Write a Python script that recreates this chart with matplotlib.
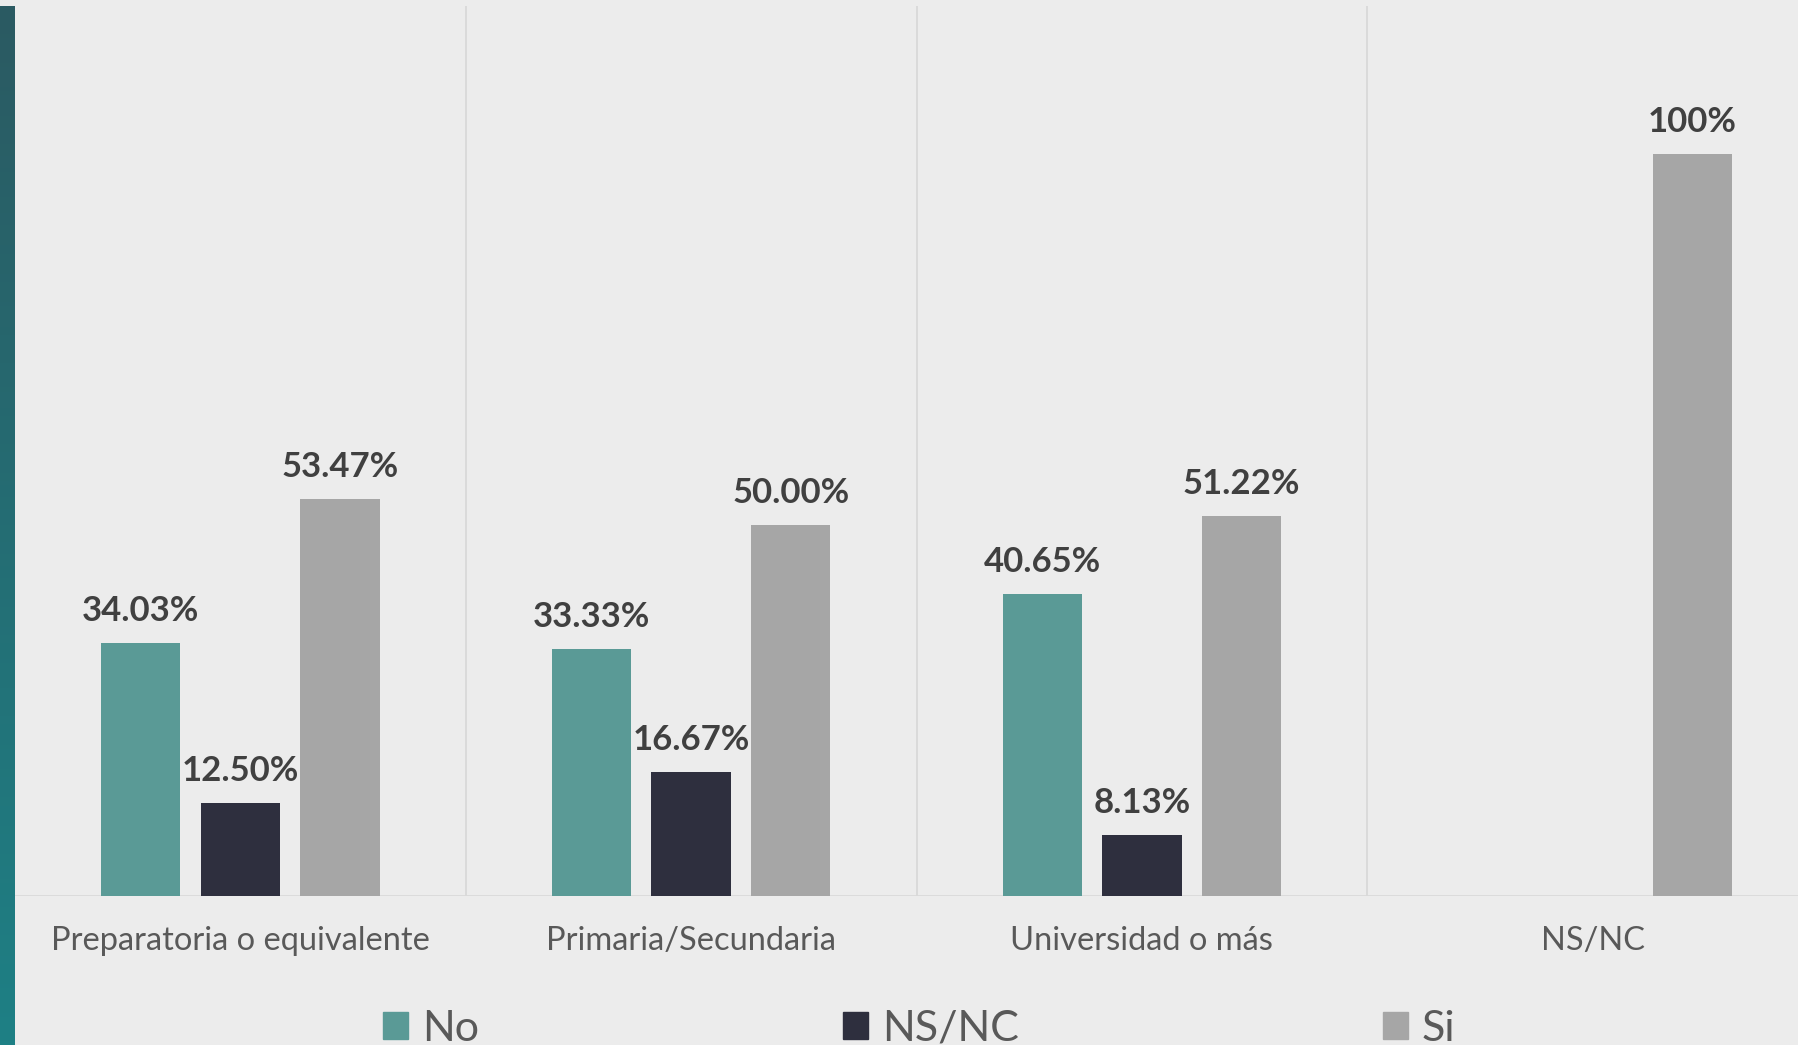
import numpy as np
import matplotlib.pyplot as plt
from matplotlib.patches import Rectangle
from matplotlib.colors import LinearSegmentedColormap

categories = ["Preparatoria o equivalente", "Primaria/Secundaria", "Universidad o más", "NS/NC"]
series_names = ["No", "NS/NC", "Si"]
no_vals = [34.03, 33.33, 40.65, None]
nsnc_vals = [12.50, 16.67, 8.13, None]
si_vals = [53.47, 50.00, 51.22, 100]
label_fmt = ["{:.2f}%", "{:.2f}%", "{:.2f}%", "{:.0f}%"]

colors = ["#5a9a96", "#2e2f3e", "#a6a6a6"]
bg = "#ececec"

plt.rcParams["font.family"] = ["Lato", "DejaVu Sans"]

fig = plt.figure(figsize=(17.98, 10.45), dpi=100, facecolor=bg)

# teal strip on the left edge
strip = fig.add_axes([0, 0, 15 / 1798, 1 - 6 / 1045])
cmap = LinearSegmentedColormap.from_list("strip", ["#2b5a62", "#1e8085"])
strip.imshow(np.linspace(0, 1, 256).reshape(-1, 1), aspect="auto", cmap=cmap)
strip.set_axis_off()

ax = fig.add_axes([15 / 1798, 149.4 / 1045, 1803 / 1798, 889.6 / 1045])
ax.set_facecolor(bg)

x = np.arange(len(categories))
width = 0.176
step = 0.221
all_series = [no_vals, nsnc_vals, si_vals]
for i, vals in enumerate(all_series):
    for j, v in enumerate(vals):
        if v is None:
            continue
        xpos = x[j] + (i - 1) * step
        ax.bar(xpos, v, width, color=colors[i], zorder=3)
        ax.annotate(label_fmt[j].format(v), (xpos, v), xytext=(0, 11.5), textcoords="offset points",
                    ha="center", va="bottom", fontsize=25, fontweight="bold", color="#404040", zorder=4)

for b in [0.5, 1.5, 2.5]:
    ax.axvline(b, color="#d9d9d9", lw=1.3, zorder=1)
ax.axhline(0, color="#d9d9d9", lw=2, zorder=2)

ax.set_xlim(-0.5, 3.5)
ax.set_ylim(0, 120)
ax.set_xticks(x)
ax.set_xticklabels(categories, fontsize=23.5, color="#595959")
ax.tick_params(axis="x", length=0, pad=22)
ax.set_yticks([])
for s in ax.spines.values():
    s.set_visible(False)

handles = [Rectangle((0, 0), 1, 1, color=c) for c in colors]
fig.legend(handles, series_names, loc="center left", bbox_to_anchor=(383 / 1798, 0.0155),
           ncol=3, frameon=False, fontsize=31, labelcolor="#595959",
           handlelength=0.58, handleheight=0.58, handletextpad=0.33,
           columnspacing=8.45, borderpad=0, borderaxespad=0)

fig.savefig("out.png", dpi=100, facecolor=bg)
